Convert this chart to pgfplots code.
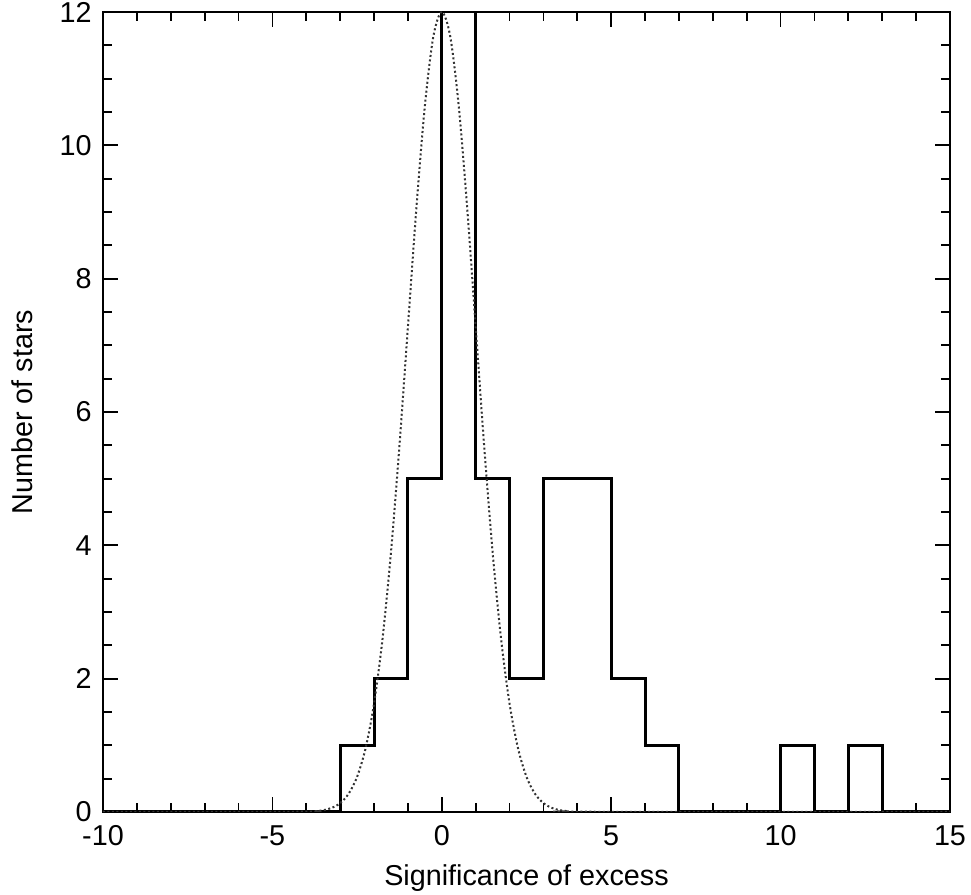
\documentclass[border=0pt]{standalone}
\usepackage{pgfplots}
\pgfplotsset{compat=1.18}
\usepackage{fontspec}
\setmainfont{Liberation Sans}
\begin{document}
\begin{tikzpicture}
\useasboundingbox (-41.2pt,-33.2pt) rectangle (347.2pt,324.8pt);
\begin{axis}[
  scale only axis,
  width=338.8pt, height=320pt,
  xmin=-10, xmax=15, ymin=0, ymax=12,
  xtick={-10,-5,0,5,10,15},
  ytick={0,2,4,6,8,10,12},
  minor x tick num=4,
  minor y tick num=3,
  tick align=inside,
  xtick pos=both, ytick pos=both,
  major tick length=6pt,
  minor tick length=3.5pt,
  every tick/.style={black, line width=0.7pt},
  axis line style={line width=0.9pt},
  /pgf/number format/assume math mode=true,
  tick label style={font=\fontsize{11.5}{13}\selectfont},
  xticklabel style={yshift=-2pt},
  yticklabel style={xshift=-1pt},
  xlabel={Significance of excess},
  ylabel={Number of stars},
  label style={font=\fontsize{11.5}{13}\selectfont},
  xlabel style={yshift=-0.5pt},
  ylabel style={yshift=4pt},
  clip=true,
]
\addplot[const plot mark left, line width=1.2pt, black] coordinates {
  (-10,0) (-3,1) (-2,2) (-1,5) (0,12) (1,5) (2,2) (3,5) (5,2) (6,1) (7,0) (10,1) (11,0) (12,1) (13,0) (15,0)
};
\addplot[densely dotted, line width=0.8pt, black!80, smooth] coordinates {
  (-10,0) (-4,0.004) (-3.75,0.011) (-3.5,0.026) (-3.25,0.061) (-3,0.133) (-2.75,0.274) (-2.5,0.527) (-2.25,0.955)
  (-2,1.624) (-1.75,2.595) (-1.5,3.896) (-1.25,5.494) (-1,7.278) (-0.75,9.058) (-0.5,10.590) (-0.25,11.631)
  (0,12) (0.25,11.631) (0.5,10.590) (0.75,9.058) (1,7.278) (1.25,5.494) (1.5,3.896) (1.75,2.595) (2,1.624)
  (2.25,0.955) (2.5,0.527) (2.75,0.274) (3,0.133) (3.25,0.061) (3.5,0.026) (3.75,0.011) (4,0.004) (15,0)
};
\end{axis}
\end{tikzpicture}
\end{document}
